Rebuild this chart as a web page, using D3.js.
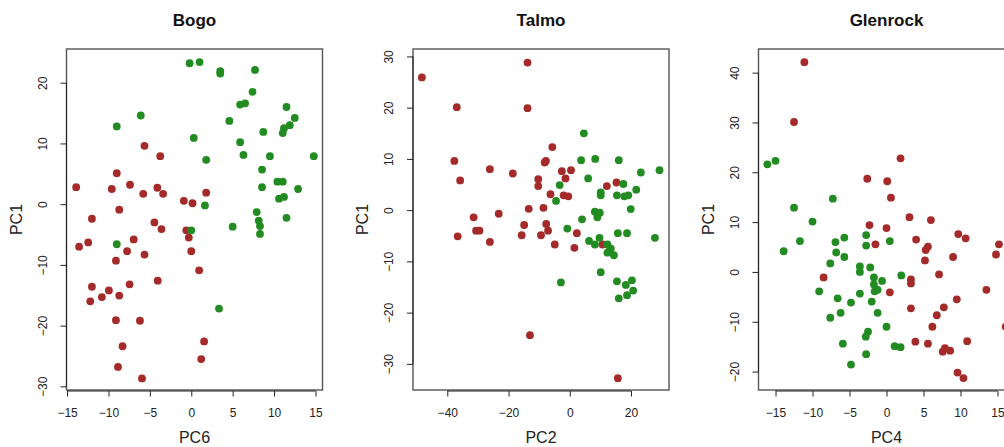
<!DOCTYPE html>
<html>
<head>
<meta charset="utf-8">
<script src="https://cdn.jsdelivr.net/npm/d3@7"></script>
<style>
  html, body { margin: 0; padding: 0; background: #fff; }
  svg { display: block; font-family: "Liberation Sans", Arial, Helvetica, sans-serif; }
</style>
</head>
<body>
<svg id="chart" width="1004" height="447"></svg>
<script>
// ---------------- DATA ----------------
const panelTitles = ["Bogo", "Talmo", "Glenrock"];
const xLabels = ["PC6", "PC2", "PC4"];
const yLabel = "PC1";

// Bogo (x = PC6, y = PC1)
const bogoRedX   = [-13.9,-9.6,-7.4,-5.8,-9.0,-5.65,-3.75,-4.1,-3.4,-8.7,-12.0,-0.9,0.15,1.8,-4.45,-3.6,-0.6,-0.3,-13.55,-12.45,-6.95,-7.75,-5.65,-9.1,0.0,0.95,-12.0,-12.2,-10.8,-9.95,-8.7,-7.45,-4.05,-9.1,-6.2,-8.3,1.55,1.2,-8.85,-5.95];
const bogoRedY   = [2.8,2.5,3.2,1.7,5.1,9.6,7.9,2.7,1.7,-0.9,-2.4,0.55,0.15,1.9,-3.0,-4.1,-4.3,-5.5,-7.0,-6.3,-5.8,-7.75,-8.3,-9.3,-7.75,-10.9,-13.6,-16.0,-15.3,-14.2,-15.05,-13.2,-12.6,-19.1,-19.2,-23.4,-22.6,-25.5,-26.8,-28.7];
const bogoGreenX = [-0.2,1.0,3.5,3.5,7.7,7.4,5.9,6.5,11.5,12.5,11.9,11.2,11.05,4.6,-6.1,-9.0,0.3,8.7,5.9,6.3,9.5,14.8,1.8,8.55,10.4,11.05,8.55,12.9,10.6,11.2,1.65,7.9,11.5,8.15,8.3,8.3,5.0,0.0,-9.0,3.35];
const bogoGreenY = [23.2,23.4,21.9,21.5,22.1,18.5,16.4,16.6,16.0,14.2,13.0,12.5,11.7,13.7,14.6,12.8,10.9,11.9,10.2,8.1,7.9,7.9,7.3,5.7,3.7,3.7,2.8,2.5,0.9,1.2,-0.2,-1.3,-2.25,-2.7,-3.6,-4.9,-3.7,-4.3,-6.6,-17.2];

// Talmo (x = PC2, y = PC1)
const talmoRedX   = [-48.3,-13.8,-36.9,-13.8,-37.7,-35.8,-26.1,-18.6,-5.7,-8.2,-7.8,-2.6,0.4,-1.4,-10.3,-10.3,-6.3,-2.0,-0.5,-8.6,-13.4,-31.4,-23.2,-30.6,-29.5,-36.6,-26.1,-14.9,-15.7,-7.7,-7.1,-9.4,-4.9,2.3,1.5,12.1,15.25,10.7,-13.0,15.7];
const talmoRedY   = [25.9,28.8,20.1,19.9,9.6,5.8,8.0,7.15,12.3,9.3,9.6,7.6,7.8,6.2,6.05,4.7,3.1,2.9,2.7,0.45,0.26,-1.4,-0.7,-4.0,-4.0,-5.1,-6.2,-2.9,-4.9,-2.7,-4.0,-4.9,-6.7,-4.5,-7.35,4.7,5.4,-6.7,-24.4,-32.8];
const talmoGreenX = [4.6,3.7,8.3,16.0,23.2,29.3,6.0,-3.3,-4.5,10.1,10.1,15.4,17.5,17.8,19.1,21.7,19.9,8.2,9.8,9.0,4.0,-0.8,9.7,15.7,18.7,27.8,6.3,8.2,12.3,13.4,13.2,12.3,14.4,10.1,-2.9,15.4,18.3,20.3,20.7,18.7,16.0];
const talmoGreenY = [15.0,9.75,10.0,9.75,7.35,7.8,6.2,4.9,1.8,3.45,2.9,2.9,5.1,2.7,2.9,4.0,0.2,-0.3,-0.5,-1.4,-1.8,-3.6,-5.4,-4.5,-4.5,-5.4,-6.0,-6.7,-6.7,-7.5,-7.7,-8.3,-8.8,-12.1,-14.1,-13.9,-14.6,-13.7,-15.7,-16.6,-17.2];

// Glenrock (x = PC4, y = PC1)
const glenRedX   = [-11.1,-12.5,1.9,-2.6,0.1,0.6,3.1,6.0,-2.3,0.0,-1.5,4.0,9.7,10.7,15.2,14.8,5.6,5.3,5.2,9.0,7.1,-8.5,3.3,3.3,0.45,13.5,3.3,7.75,9.5,6.8,6.2,16.1,3.9,5.6,10.9,7.6,7.9,8.6,9.6,10.4];
const glenRedY   = [42.1,30.1,22.8,18.7,18.2,14.9,11.0,10.4,9.4,8.8,5.55,6.5,7.6,6.75,5.55,3.5,5.1,4.4,2.3,3.0,-0.5,-1.1,-1.5,-2.3,-4.1,-3.6,-7.3,-7.1,-5.5,-8.7,-11.0,-11.0,-14.0,-14.4,-13.9,-16.0,-15.3,-15.8,-20.2,-21.3];
const glenGreenX = [-16.1,-15.0,-12.5,-7.25,-10.0,-11.7,-13.9,-6.9,-5.7,-2.75,-2.75,0.45,-6.8,-5.7,-7.6,-3.6,-3.6,-2.2,-1.7,-0.6,-1.7,-1.2,-1.6,2.0,-9.1,-3.6,-4.8,-6.6,-2.0,-1.2,-6.2,-7.6,0.0,-2.5,-2.8,-5.9,1.1,1.9,-2.75,-4.8];
const glenGreenY = [21.6,22.3,12.9,14.7,10.1,6.2,4.15,6.0,6.9,7.4,5.3,6.2,3.9,3.0,1.7,1.1,0.0,0.9,-1.1,-1.8,-2.5,-3.6,-3.9,-0.7,-3.9,-4.35,-6.15,-5.3,-5.95,-8.2,-8.2,-9.2,-11.0,-12.0,-13.0,-14.4,-14.9,-15.1,-16.5,-18.6];

// axis limits and tick labels
const bogoXLim = [-15.07, 15.85],  bogoYLim = [-30.6, 25.55];
const talmoXLim = [-51.2, 32.4],   talmoYLim = [-35.1, 31.45];
const glenXLim = [-17.3, 17.3],    glenYLim = [-23.7, 44.75];
const bogoXTicks = [-15,-10,-5,0,5,10,15],  bogoYTicks = [-30,-20,-10,0,10,20];
const talmoXTicks = [-40,-20,0,20],         talmoYTicks = [-30,-20,-10,0,10,20,30];
const glenXTicks = [-15,-10,-5,0,5,10,15],  glenYTicks = [-20,-10,0,10,20,30,40];

// ---------------- LAYOUT ----------------
const boxLefts = [66.5, 413, 758.5];
const boxTop = 49, boxBottom = 390, boxW = 256;
const redCol = "#A52A2A", greenCol = "#228B22";

const panels = [
  { xlim: bogoXLim, ylim: bogoYLim, xt: bogoXTicks, yt: bogoYTicks,
    red: [bogoRedX, bogoRedY], green: [bogoGreenX, bogoGreenY] },
  { xlim: talmoXLim, ylim: talmoYLim, xt: talmoXTicks, yt: talmoYTicks,
    red: [talmoRedX, talmoRedY], green: [talmoGreenX, talmoGreenY] },
  { xlim: glenXLim, ylim: glenYLim, xt: glenXTicks, yt: glenYTicks,
    red: [glenRedX, glenRedY], green: [glenGreenX, glenGreenY] }
];

const svg = d3.select("#chart");

panels.forEach((p, i) => {
  const L = boxLefts[i], R = L + boxW;
  const x = d3.scaleLinear().domain(p.xlim).range([L, R]);
  const y = d3.scaleLinear().domain(p.ylim).range([boxBottom, boxTop]);
  const g = svg.append("g");

  // points
  [[p.red, redCol], [p.green, greenCol]].forEach(([arr, col]) => {
    const pts = d3.range(arr[0].length).map(k => [arr[0][k], arr[1][k]]);
    g.append("g").selectAll("circle").data(pts).join("circle")
      .attr("cx", d => x(d[0])).attr("cy", d => y(d[1]))
      .attr("r", 3.9).attr("fill", col);
  });

  // box
  g.append("rect").attr("x", L).attr("y", boxTop)
    .attr("width", boxW).attr("height", boxBottom - boxTop)
    .attr("fill", "none").attr("stroke", "#555").attr("stroke-width", 1.4);

  // x axis
  const xa = g.append("g").attr("transform", `translate(0,${boxBottom + 1})`)
    .call(d3.axisBottom(x).tickValues(p.xt).tickSize(5.5).tickPadding(12).tickFormat(d3.format("d")));
  xa.select(".domain").remove();
  xa.append("line").attr("x1", x(p.xt[0])).attr("x2", x(p.xt[p.xt.length - 1]))
    .attr("stroke", "#222").attr("stroke-width", 1);
  xa.selectAll(".tick line").attr("stroke", "#222");
  xa.selectAll(".tick text").attr("font-size", 12).attr("fill", "#222")
    .attr("font-family", "Liberation Sans, Arial, sans-serif");

  // y axis
  const ya = g.append("g").attr("transform", `translate(${L},0)`)
    .call(d3.axisLeft(y).tickValues(p.yt).tickSize(6).tickFormat(d3.format("d")));
  ya.select(".domain").remove();
  ya.append("line").attr("y1", y(p.yt[0])).attr("y2", y(p.yt[p.yt.length - 1]))
    .attr("stroke", "#222").attr("stroke-width", 1);
  ya.selectAll(".tick line").attr("stroke", "#222");
  ya.selectAll(".tick text")
    .attr("x", 0).attr("dy", null).attr("y", 0)
    .attr("text-anchor", "middle")
    .attr("transform", "translate(-19.7,0) rotate(-90)")
    .attr("font-size", 12).attr("fill", "#222")
    .attr("font-family", "Liberation Sans, Arial, sans-serif");

  // titles
  const cx = (L + R) / 2;
  g.append("text").attr("x", cx).attr("y", 26).attr("text-anchor", "middle")
    .attr("font-size", 17).attr("font-weight", "bold").attr("fill", "#111")
    .text(panelTitles[i]);
  g.append("text").attr("x", cx).attr("y", 443).attr("text-anchor", "middle")
    .attr("font-size", 16).attr("fill", "#222").text(xLabels[i]);
  g.append("text")
    .attr("transform", `translate(${L - 45},${(boxTop + boxBottom) / 2}) rotate(-90)`)
    .attr("text-anchor", "middle").attr("font-size", 16).attr("fill", "#222")
    .text(yLabel);
});
</script>
</body>
</html>
